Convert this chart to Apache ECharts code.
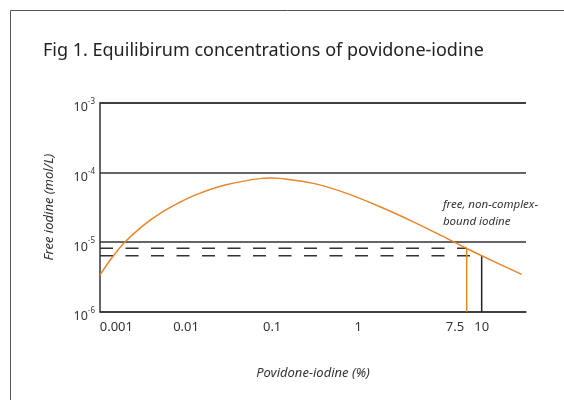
<!DOCTYPE html>
<html>
<head>
<meta charset="utf-8">
<script src="https://cdn.jsdelivr.net/npm/echarts@6/dist/echarts.min.js"></script>
<style>
  html, body { margin: 0; padding: 0; background: #fff; }
  #chart { width: 564px; height: 400px; }
</style>
</head>
<body>
<div id="chart"></div>
<script>
// x positions are in "decade" units of the drawn scale (1 % = 0), the figure is schematic
const curveX = [-3.0, -2.864, -2.71, -2.477, -2.283, -2.09, -1.896, -1.548, -1.121, -1.005, -0.908, -0.521, -0.133, 0.254, 0.641, 1.029, 1.261, 1.435, 1.90]
const curveY = [3.36e-6, 5.89e-6, 1.0e-5, 1.81e-5, 2.67e-5, 3.62e-5, 4.72e-5, 6.58e-5, 8.2e-5, 8.3e-5, 8.2e-5, 6.95e-5, 5.0e-5, 3.21e-5, 1.95e-5, 1.13e-5, 8.12e-6, 6.36e-6, 3.44e-6]

const xTickPos = [-2.81, -2, -1, 0, 1.125, 1.435]
const xTickLabels = ['0.001', '0.01', '0.1', '1', '7.5', '10']

// 7.5 % and 10 % markers and the free iodine level read at each
const markX = [1.261, 1.435]
const markY = [8.12e-6, 6.36e-6]
const markColors = ['#e8862a', '#222']

const xMin = -3
const xMax = 1.95
const yMin = 1e-6
const yMax = 1e-3

let myEcharts = echarts.init(document.getElementById('chart'))

let series = [
  {
    name: 'free iodine',
    type: 'line',
    smooth: 0.3,
    symbol: 'none',
    lineStyle: { color: '#e8862a', width: 1.5 },
    data: curveX.map((x, i) => [x, curveY[i]]),
    z: 5
  }
]

markX.forEach((x, i) => {
  series.push({
    type: 'line',
    symbol: 'none',
    lineStyle: { color: '#333', width: 1.5, type: [13, 12.5] },
    data: [[xMin, markY[i]], [x, markY[i]]],
    z: 3
  })
  series.push({
    type: 'line',
    symbol: 'none',
    lineStyle: { color: markColors[i], width: 1.5 },
    data: [[x, markY[i]], [x, yMin]],
    z: 4
  })
})

let option = {
  animation: false,
  title: {
    text: 'Fig 1. Equilibirum concentrations of povidone-iodine',
    left: 38,
    top: 37,
    textStyle: {
      fontFamily: 'Noto Sans',
      fontWeight: 'normal',
      fontSize: 18,
      color: '#222'
    }
  },
  grid: {
    left: 100,
    right: 38,
    top: 102.7,
    bottom: 88.3
  },
  xAxis: {
    type: 'value',
    min: xMin,
    max: xMax,
    name: 'Povidone-iodine (%)',
    nameLocation: 'middle',
    nameGap: 55,
    nameTextStyle: {
      fontFamily: 'Noto Sans',
      fontStyle: 'italic',
      fontSize: 13,
      color: '#333'
    },
    axisLine: { onZero: false, lineStyle: { color: '#333', width: 1.5 } },
    axisTick: { show: false },
    splitLine: { show: false },
    axisLabel: {
      customValues: xTickPos,
      interval: 0,
      hideOverlap: false,
      margin: 9,
      fontFamily: 'Noto Sans',
      fontSize: 13,
      color: '#333',
      formatter: function (value) {
        let idx = xTickPos.findIndex(p => Math.abs(p - value) < 1e-6)
        return idx >= 0 ? xTickLabels[idx] : ''
      }
    }
  },
  yAxis: {
    type: 'log',
    logBase: 10,
    min: yMin,
    max: yMax,
    name: 'Free iodine (mol/L)',
    nameLocation: 'middle',
    nameGap: 44,
    nameTextStyle: {
      fontFamily: 'Noto Sans',
      fontStyle: 'italic',
      fontSize: 13,
      color: '#333'
    },
    axisLine: { show: true, onZero: false, lineStyle: { color: '#333', width: 1.5 } },
    axisTick: { show: false },
    splitLine: { show: true, lineStyle: { color: '#333', width: 1.5 } },
    axisLabel: {
      margin: 5,
      formatter: function (value) {
        let e = Math.round(Math.log10(value))
        return '{b|10}{s|' + e + '}'
      },
      rich: {
        b: { fontFamily: 'Noto Sans', fontSize: 12.5, color: '#333', padding: [10, 0, 0, 0] },
        s: { fontFamily: 'Noto Sans', fontSize: 8, color: '#333', padding: [0, 0, 2, 0] }
      }
    }
  },
  graphic: [
    {
      type: 'rect',
      shape: { x: 10.5, y: 10.5, width: 700, height: 600 },
      style: { fill: 'none', stroke: '#555', lineWidth: 1 },
      silent: true
    },
    {
      type: 'text',
      right: 26,
      top: 196,
      style: {
        text: 'free, non-complex-\nbound iodine',
        align: 'right',
        fontFamily: 'Noto Sans',
        fontStyle: 'italic',
        fontSize: 11.5,
        lineHeight: 17,
        fill: '#333'
      }
    }
  ],
  series: series
}

myEcharts.setOption(option)
</script>
</body>
</html>
